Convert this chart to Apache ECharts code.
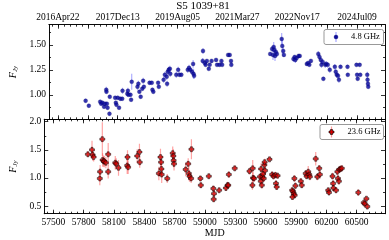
<!DOCTYPE html>
<html><head><meta charset="utf-8">
<script src="https://cdn.jsdelivr.net/npm/echarts@6/dist/echarts.min.js"></script>
<style>html,body{margin:0;padding:0;background:#fff}#c{width:389px;height:240px}</style>
</head><body><div id="c"></div>
<script>
// ---- data: 4.8 GHz ----
const mjd48 = [57778,57810,57924,57934,57947,57963,57972,57985,57987,57991,57998,58017,58020,58074,58081,58087,58100,58113,58126,58145,58148,58196,58202,58208,58228,58234,58240,58298,58307,58317,58330,58346,58355,58362,58419,58441,58448,58457,58505,58512,58560,58572,58591,58595,58601,58611,58623,58627,58687,58706,58719,58738,58802,58815,58828,58844,58856,58860,58866,58952,58955,58974,58981,58994,59013,59022,59041,59086,59096,59121,59140,59147,59207,59223,59236,59239,59629,59648,59657,59664,59670,59677,59686,59696,59744,59750,59760,59766,59862,59874,59881,59894,59913,59925,59996,60009,60021,60037,60111,60123,60136,60143,60155,60162,60181,60190,60206,60226,60277,60286,60296,60309,60318,60334,60404,60407,60494,60500,60506,60526,60532,60602,60605,60609,60612];
const flux48 = [0.94,0.89,0.93,0.91,0.92,0.88,0.91,1.05,1.03,0.91,0.87,0.81,0.98,0.97,0.92,0.90,0.97,0.87,0.96,0.96,1.04,1.01,1.04,1.00,1.00,0.95,1.13,1.08,1.11,1.03,0.98,1.06,1.14,1.08,1.12,1.12,1.05,1.03,1.12,1.08,1.15,1.20,1.18,1.11,1.23,1.25,1.26,1.21,1.20,1.25,1.20,1.20,1.25,1.27,1.25,1.23,1.31,1.21,1.19,1.34,1.44,1.32,1.30,1.34,1.26,1.30,1.34,1.35,1.30,1.30,1.34,1.30,1.40,1.40,1.34,1.30,1.41,1.46,1.40,1.48,1.45,1.39,1.43,1.41,1.56,1.49,1.44,1.40,1.36,1.38,1.35,1.37,1.39,1.39,1.31,1.32,1.30,1.34,1.41,1.38,1.35,1.30,1.33,1.16,1.30,1.31,1.30,1.25,1.28,1.23,1.20,1.19,1.15,1.28,1.28,1.20,1.30,1.20,1.16,1.30,1.20,1.20,1.15,1.11,1.08];
const err48 = [0.02,0.02,0.02,0.02,0.02,0.02,0.02,0.03,0.02,0.02,0.02,0.02,0.02,0.02,0.02,0.02,0.02,0.02,0.02,0.02,0.03,0.03,0.03,0.02,0.02,0.02,0.08,0.03,0.03,0.02,0.02,0.02,0.03,0.02,0.02,0.02,0.02,0.02,0.02,0.02,0.03,0.03,0.03,0.03,0.04,0.03,0.03,0.03,0.03,0.03,0.02,0.02,0.03,0.03,0.02,0.03,0.04,0.05,0.03,0.03,0.03,0.03,0.02,0.02,0.02,0.02,0.02,0.02,0.02,0.02,0.02,0.02,0.02,0.02,0.02,0.02,0.02,0.03,0.05,0.05,0.04,0.05,0.04,0.03,0.06,0.08,0.03,0.02,0.03,0.02,0.03,0.02,0.02,0.02,0.02,0.02,0.02,0.02,0.03,0.03,0.03,0.03,0.03,0.02,0.03,0.03,0.03,0.03,0.03,0.03,0.03,0.03,0.03,0.02,0.02,0.02,0.02,0.02,0.02,0.02,0.02,0.03,0.03,0.03,0.02];
// ---- data: 23.6 GHz ----
const mjd236 = [57842,57883,57889,57899,57963,57960,57985,57988,57998,58004,58020,58043,58043,58113,58122,58145,58234,58231,58240,58330,58352,58355,58544,58560,58566,58569,58572,58627,58681,58687,58690,58694,58809,58834,58840,58847,58863,58866,58955,58959,59038,59083,59089,59086,59140,59207,59223,59236,59230,59294,59440,59472,59475,59469,59485,59543,59552,59562,59555,59568,59574,59587,59590,59594,59581,59638,59664,59677,59696,59702,59709,59718,59862,59871,59878,59887,59865,59894,59884,59948,59957,59996,60005,60021,60031,60037,60095,60111,60130,60136,60219,60226,60261,60267,60270,60296,60309,60315,60324,60328,60340,60353,60516,60570,60580,60596,60605];
const flux236 = [1.42,1.50,1.41,1.37,1.11,0.99,1.69,1.32,1.30,1.29,1.27,1.42,1.11,1.27,1.25,1.18,1.37,1.22,1.19,1.39,1.46,1.28,1.08,1.37,1.28,1.16,1.06,0.99,1.44,1.39,1.31,1.25,1.15,1.25,1.08,1.03,0.99,1.51,0.99,0.87,1.03,0.81,0.72,0.62,0.78,0.82,0.87,1.06,0.87,1.17,1.12,1.17,1.00,0.87,0.99,1.02,0.94,0.87,1.16,1.02,1.07,1.23,1.28,1.13,0.99,1.33,1.06,1.03,1.05,0.90,0.84,1.04,0.78,0.76,0.72,0.69,0.66,0.86,0.99,0.94,0.87,1.08,1.03,1.11,1.06,1.02,1.34,1.02,1.17,1.06,0.78,0.74,1.03,0.90,0.82,0.78,1.11,0.99,0.94,1.15,1.16,1.17,0.74,0.56,0.54,0.63,0.49];
const err236 = [0.05,0.16,0.10,0.08,0.12,0.12,0.30,0.12,0.10,0.10,0.10,0.20,0.12,0.12,0.10,0.14,0.12,0.15,0.12,0.12,0.15,0.10,0.12,0.15,0.10,0.12,0.15,0.08,0.12,0.12,0.12,0.12,0.12,0.10,0.12,0.10,0.08,0.18,0.05,0.05,0.03,0.05,0.05,0.05,0.03,0.05,0.06,0.06,0.05,0.04,0.06,0.15,0.10,0.08,0.06,0.06,0.06,0.06,0.10,0.08,0.06,0.06,0.06,0.08,0.06,0.03,0.06,0.06,0.06,0.06,0.05,0.05,0.05,0.05,0.05,0.05,0.05,0.06,0.06,0.05,0.05,0.06,0.05,0.10,0.06,0.06,0.12,0.06,0.06,0.08,0.04,0.04,0.06,0.06,0.06,0.05,0.06,0.06,0.06,0.06,0.06,0.05,0.06,0.03,0.03,0.03,0.03];
// ---- ticks / labels ----
const mjdTicks = [57500,57800,58100,58400,58700,59000,59300,59600,59900,60200,60500];
const dateTicks = [57500,58100,58700,59300,59900,60500];
const dateLabels = ['2016Apr22','2017Dec13','2019Aug05','2021Mar27','2022Nov17','2024Jul09'];
const yTicksTop = [1.00,1.25,1.50];
const yTicksBot = [0.5,1.0,1.5,2.0];
const title = 'S5 1039+81';
const seriesNames = ['4.8 GHz','23.6 GHz'];

const XMIN = 57411, XMAX = 60780;
const YTOP = [0.754, 1.703], YBOT = [0.363, 2.043];
const mjdMinor = []; for (let v = 57440; v <= 60740; v += 60) mjdMinor.push(v);
const yMinorTop = [0.875,1.125,1.375,1.625];
const yMinorBot = [0.75,1.25,1.75];

const FONT = 'Liberation Serif';
const black = '#000';
function xAx(grid, pos, ticks, len, lab) {
  return {type:'value', gridIndex:grid, position:pos, min:XMIN, max:XMAX,
    axisLine:{show:true, onZero:false, lineStyle:{color:black, width:0.8}},
    axisTick:{show:true, inside:true, length:len, customValues:ticks, lineStyle:{color:black, width:0.8}},
    axisLabel: lab ? Object.assign({show:true, customValues:ticks, color:black, fontFamily:FONT, fontSize:9.5}, lab) : {show:false},
    splitLine:{show:false}};
}
function yAx(grid, pos, ticks, len, range, lab) {
  return {type:'value', gridIndex:grid, position:pos, min:range[0], max:range[1],
    axisLine:{show:true, onZero:false, lineStyle:{color:black, width:0.8}},
    axisTick:{show:true, inside:true, length:len, customValues:ticks, lineStyle:{color:black, width:0.8}},
    axisLabel: lab ? Object.assign({show:true, customValues:ticks, color:black, fontFamily:FONT, fontSize:9.5, margin:3}, lab) : {show:false},
    splitLine:{show:false}};
}
const fjyName = {name:'{f|F}{s|Jy}', nameLocation:'middle', nameGap:25, nameRotate:90,
  nameTextStyle:{rich:{f:{fontFamily:FONT, fontStyle:'italic', fontSize:10, color:black}, s:{fontFamily:FONT, fontStyle:'italic', fontSize:7, color:black, verticalAlign:'bottom', padding:[4,0,0,0]}}}};

const xAxes = [
  xAx(0,'bottom',mjdTicks,4,null),
  xAx(0,'bottom',mjdMinor,2,null),
  xAx(0,'top',mjdTicks,4,{formatter:v=>dateLabels[dateTicks.indexOf(v)]||'', customValues:dateTicks, margin:2}),
  xAx(0,'top',mjdMinor,2,null),
  Object.assign(xAx(1,'bottom',mjdTicks,4,{formatter:v=>String(v), margin:4}), {name:'MJD', nameLocation:'middle', nameGap:13, nameTextStyle:{fontFamily:FONT, fontSize:10, color:black}}),
  xAx(1,'bottom',mjdMinor,2,null),
  xAx(1,'top',mjdTicks,4,null),
  xAx(1,'top',mjdMinor,2,null)
];
const yAxes = [
  Object.assign(yAx(0,'left',yTicksTop,4,YTOP,{formatter:v=>v.toFixed(2)}), fjyName),
  yAx(0,'left',yMinorTop,2,YTOP,null),
  yAx(0,'right',yTicksTop,4,YTOP,null),
  yAx(0,'right',yMinorTop,2,YTOP,null),
  Object.assign(yAx(1,'left',yTicksBot,4,YBOT,{formatter:v=>v.toFixed(1)}), fjyName),
  yAx(1,'left',yMinorBot,2,YBOT,null),
  yAx(1,'right',yTicksBot,4,YBOT,null),
  yAx(1,'right',yMinorBot,2,YBOT,null)
];

function rows(m,f,e){ return m.map((v,i)=>[v,f[i],e[i]]); }
function errSeries(name, data, xi, yi, color){
  return {type:'custom', name:name+' err', xAxisIndex:xi, yAxisIndex:yi, data:data, clip:true, z:2,
    encode:{x:0,y:1},
    renderItem:function(params, api){
      const x=api.value(0), y=api.value(1), e=api.value(2);
      const p1=api.coord([x,y-e]), p2=api.coord([x,y+e]);
      return {type:'line', shape:{x1:p1[0],y1:p1[1],x2:p2[0],y2:p2[1]}, style:{stroke:color, lineWidth:1.2}};
    }};
}
const plusPath = 'path://M3,0H7V3H10V7H7V10H3V7H0V3H3Z';
const d48 = rows(mjd48,flux48,err48), d236 = rows(mjd236,flux236,err236);
function plusPts(cx, cy, h){ const a=h*0.4; return [[cx-a,cy-h],[cx+a,cy-h],[cx+a,cy-a],[cx+h,cy-a],[cx+h,cy+a],[cx+a,cy+a],[cx+a,cy+h],[cx-a,cy+h],[cx-a,cy+a],[cx-h,cy+a],[cx-h,cy-a],[cx-a,cy-a]]; }

const chart = echarts.init(document.getElementById('c'), null, {renderer:'canvas'});
chart.setOption({
  animation:false,
  backgroundColor:'#fff',
  title:{text:title, left:203, textAlign:'center', top:1, padding:0, textStyle:{fontFamily:FONT, fontWeight:'normal', fontSize:11, color:black}},
  grid:[{left:34, right:4, top:24.7, height:94.6}, {left:34, right:4, top:119.3, height:94.4}],
  xAxis:xAxes, yAxis:yAxes,
  series:[
    errSeries(seriesNames[0], d48, 0, 0, 'rgba(110,110,255,0.55)'),
    {type:'scatter', name:seriesNames[0], xAxisIndex:0, yAxisIndex:0, data:d48, symbol:'circle', symbolSize:4, z:3,
     itemStyle:{color:'#0c0c9c', borderColor:'#000060', borderWidth:0.3}},
    errSeries(seriesNames[1], d236, 4, 4, 'rgba(255,90,90,0.55)'),
    {type:'scatter', name:seriesNames[1], xAxisIndex:4, yAxisIndex:4, data:d236, symbol:plusPath, symbolSize:5, z:3,
     itemStyle:{color:'#d40000', borderColor:'#000', borderWidth:0.6}}
  ],
  graphic:[
    {type:'rect', shape:{x:324, y:29.5, width:59.5, height:15, r:2}, style:{fill:'#fff', stroke:'#999', lineWidth:1}, z:10},
    {type:'line', shape:{x1:336, y1:32, x2:336, y2:42}, style:{stroke:'rgba(110,110,255,0.6)', lineWidth:1.2}, z:11},
    {type:'circle', shape:{cx:336, cy:37, r:2}, style:{fill:'#0c0c9c', stroke:'#000060', lineWidth:0.3}, z:12},
    {type:'text', x:351, y:37, style:{text:seriesNames[0], fontFamily:FONT, fontSize:8.5, fill:black, verticalAlign:'middle'}, z:12},
    {type:'rect', shape:{x:320, y:124.5, width:63.5, height:15, r:2}, style:{fill:'#fff', stroke:'#999', lineWidth:1}, z:10},
    {type:'line', shape:{x1:331.5, y1:126.5, x2:331.5, y2:137.5}, style:{stroke:'rgba(255,90,90,0.6)', lineWidth:1.2}, z:11},
    {type:'polygon', shape:{points:plusPts(331.5,132,2.5)}, style:{fill:'#d40000', stroke:'#000', lineWidth:0.6}, z:12},
    {type:'text', x:347.5, y:132, style:{text:seriesNames[1], fontFamily:FONT, fontSize:8.5, fill:black, verticalAlign:'middle'}, z:12}
  ]
});
</script></body></html>
